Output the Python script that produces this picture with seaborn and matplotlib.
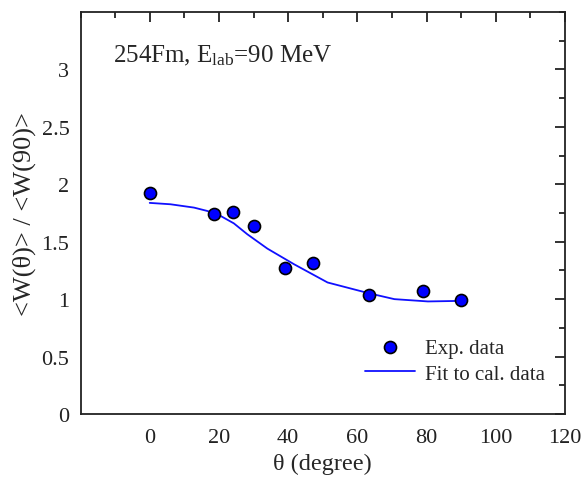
import matplotlib
matplotlib.use("Agg")
import matplotlib.pyplot as plt
import seaborn as sns
import pandas as pd
from matplotlib.ticker import MultipleLocator

# Experimental data
exp_theta = [0, 18.5, 24.2, 30.0, 39.1, 47.2, 63.5, 79.1, 90.0]
exp_w = [1.92, 1.745, 1.76, 1.64, 1.267, 1.316, 1.037, 1.072, 0.99]

# Fit to calculated data
fit_theta = [0, 6, 12.8, 16.6, 20.5, 24.3, 28.2, 34, 41.7, 51.4, 63.5, 70.7, 80.4, 90]
fit_w = [1.838, 1.826, 1.797, 1.768, 1.724, 1.66, 1.565, 1.44, 1.304, 1.145, 1.05, 1.0, 0.98, 0.985]

x_ticks = [0, 20, 40, 60, 80, 100, 120]
y_ticks = [0, 0.5, 1, 1.5, 2, 2.5, 3]
y_tick_labels = ["0", "0.5", "1", "1.5", "2", "2.5", "3"]

sns.set_theme(style="white")
plt.rcParams["font.family"] = ["Liberation Serif", "DejaVu Serif"]
plt.rcParams["mathtext.fontset"] = "custom"
plt.rcParams["mathtext.rm"] = "Liberation Serif"
plt.rcParams["mathtext.it"] = "Liberation Serif"

fig = plt.figure(figsize=(5.85, 4.81), dpi=100)
L, R, B, T = 80.5, 565, 415, 13
ax = fig.add_axes([L / 585, 1 - B / 481, (R - L) / 585, (B - T) / 481])

df_exp = pd.DataFrame({"theta": exp_theta, "w": exp_w})
df_fit = pd.DataFrame({"theta": fit_theta, "w": fit_w})

sns.lineplot(data=df_fit, x="theta", y="w", ax=ax, color="#1010ff", linewidth=1.3,
             label="Fit to cal. data", sort=False, zorder=2)
sns.scatterplot(data=df_exp, x="theta", y="w", ax=ax, color="#0000ff", edgecolor="black",
                linewidth=1.2, s=75, label="Exp. data", zorder=3)

ax.set_xlim(-20, 120)
ax.set_ylim(0, 3.5)
ax.set_xticks(x_ticks)
ax.set_yticks(y_ticks)
ax.set_yticklabels(y_tick_labels)
ax.xaxis.set_minor_locator(MultipleLocator(10))
ax.yaxis.set_minor_locator(MultipleLocator(0.25))
ax.tick_params(which="both", direction="in", top=True, right=True, width=1.3, colors="#222222")
ax.tick_params(which="major", length=7, labelsize=16, pad=8)
ax.tick_params(axis="x", which="major", pad=10)
ax.tick_params(which="minor", length=4)
for sp in ax.spines.values():
    sp.set_linewidth(1.3)
    sp.set_color("#222222")

ax.set_xlabel("θ (degree)", fontsize=17.5, labelpad=4)
ax.set_ylabel("<W(θ)> / <W(90)>", fontsize=19, labelpad=4)

ax.text((113 - L) / (R - L), (B - 62) / (B - T), "254Fm, E$_{\\rm lab}$=90 MeV",
        transform=ax.transAxes, fontsize=18)

handles, labels = ax.get_legend_handles_labels()
order = [labels.index("Exp. data"), labels.index("Fit to cal. data")]
ax.legend([handles[i] for i in order], [labels[i] for i in order],
          loc="lower right", bbox_to_anchor=(0.975, 0.055), frameon=False,
          fontsize=15, handlelength=2.4, handletextpad=0.45, labelspacing=0.3,
          borderaxespad=0.0)

fig.savefig("out.png", dpi=100)
